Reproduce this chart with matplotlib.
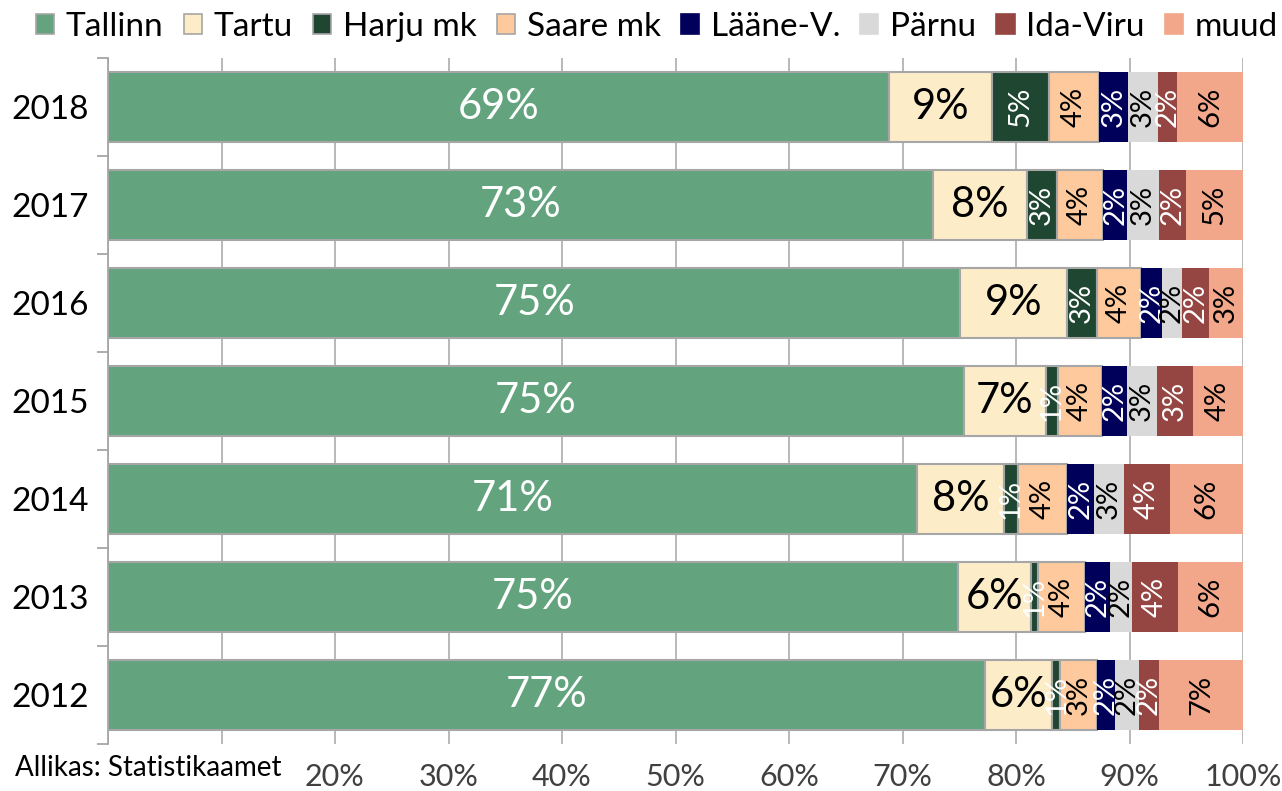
import matplotlib
matplotlib.use('Agg')
import matplotlib.pyplot as plt
from matplotlib.patches import Patch
import numpy as np

years = ['2018', '2017', '2016', '2015', '2014', '2013', '2012']
series = ['Tallinn', 'Tartu', 'Harju mk', 'Saare mk', 'Lääne-V.', 'Pärnu', 'Ida-Viru', 'muud']

tallinn = [68.8, 72.7, 75.1, 75.4, 71.3, 74.9, 77.3]
tartu = [9.1, 8.3, 9.4, 7.2, 7.6, 6.4, 5.9]
harju = [5.0, 2.6, 2.6, 1.1, 1.3, 0.6, 0.7]
saare = [4.4, 4.1, 3.9, 3.9, 4.3, 4.2, 3.2]
laane = [2.6, 2.1, 1.9, 2.2, 2.4, 2.2, 1.6]
parnu = [2.6, 2.8, 1.7, 2.6, 2.6, 1.9, 2.1]
idaviru = [1.7, 2.4, 2.4, 3.2, 4.1, 4.1, 1.8]
muud = [5.8, 5.0, 3.0, 4.4, 6.4, 5.7, 7.4]

xtick_labels = ['', '', '20%', '30%', '40%', '50%', '60%', '70%', '80%', '90%', '100%']
source_text = 'Allikas: Statistikaamet'

data = [tallinn, tartu, harju, saare, laane, parnu, idaviru, muud]
colors = ['#63A47F', '#FCECC8', '#1F4631', '#FEC99C', '#00005A', '#D9D9D9', '#964642', '#F2A78A']
edges = ['#A6A6A6', '#A6A6A6', '#A6A6A6', '#A6A6A6', 'none', 'none', 'none', 'none']
text_colors = ['white', 'black', 'white', 'black', 'white', 'black', 'white', 'black']
rotations = [0, 0, 90, 90, 90, 90, 90, 90]
label_sizes = [30, 30, 21, 21, 21, 21, 21, 21]

FONT = 'Lato'
plt.rcParams['font.family'] = [FONT, 'DejaVu Sans']

W, H = 1282, 791
fig = plt.figure(figsize=(W / 100, H / 100), dpi=100)
ax = fig.add_axes([108 / W, 1 - 744 / H, (1243 - 108) / W, (744 - 58) / H])

y = np.arange(len(years))
left = np.zeros(len(years))
for vals, col, ec, tc, rot, fs in zip(data, colors, edges, text_colors, rotations, label_sizes):
    vals = np.array(vals)
    ax.barh(y, vals, left=left, height=0.72, color=col, edgecolor=ec,
            linewidth=1.5 if ec != 'none' else 0, zorder=3)
    for i in range(len(years)):
        ax.text(left[i] + vals[i] / 2, y[i], f'{int(round(vals[i]))}%', ha='center', va='center',
                rotation=rot, color=tc, fontsize=fs, zorder=4)
    left = left + vals

ax.set_xlim(0, 100)
ax.set_ylim(len(years) - 0.5, -0.5)
ax.set_xticks(np.arange(0, 101, 10))
ax.set_xticklabels(xtick_labels, fontsize=22, color='#404040')
ax.tick_params(axis='x', length=0, pad=14)
ax.set_yticks(y)
ax.set_yticklabels(years, fontsize=24, color='black')
ax.set_yticks(np.arange(-0.5, len(years), 1), minor=True)
ax.tick_params(axis='y', which='major', length=0, pad=14)
ax.tick_params(axis='y', which='minor', length=8, color='#A6A6A6', width=1.3)
ax.grid(axis='x', color='#B3B3B3', linewidth=1.3, zorder=0)
for s in ['top', 'right', 'bottom']:
    ax.spines[s].set_visible(False)
ax.spines['left'].set_color('#A6A6A6')
ax.spines['left'].set_linewidth(1.3)
ax.spines['left'].set_zorder(5)

handles = [Patch(facecolor=c, edgecolor=(e if e != 'none' else c), linewidth=1.2) for c, e in zip(colors, edges)]
fig.legend(handles, series, ncol=8, loc='center', bbox_to_anchor=(657 / W, 1 - 27 / H), frameon=False,
           fontsize=24, handlelength=0.55, handleheight=0.55, handletextpad=0.35, columnspacing=0.6,
           borderaxespad=0, borderpad=0)

fig.text(15 / W, 1 - 768 / H, source_text, fontsize=20, va='center', ha='left', color='black')

fig.savefig('out.png', dpi=100)
